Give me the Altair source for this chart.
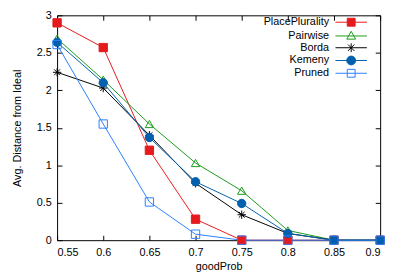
import altair as alt
import pandas as pd

x_vals = [0.55, 0.6, 0.65, 0.7, 0.75, 0.8, 0.85, 0.9]
series = ["PlacePlurality", "Pairwise", "Borda", "Kemeny", "Pruned"]
place_plurality = [2.90, 2.57, 1.20, 0.28, 0.0, 0.0, 0.0, 0.0]
pairwise = [2.69, 2.14, 1.55, 1.03, 0.66, 0.13, 0.0, 0.0]
borda = [2.24, 2.03, 1.40, 0.76, 0.34, 0.09, 0.0, 0.0]
kemeny = [2.64, 2.10, 1.37, 0.78, 0.49, 0.09, 0.0, 0.0]
pruned = [2.61, 1.55, 0.51, 0.08, 0.0, 0.0, 0.0, 0.0]

x_ticks = [0.55, 0.6, 0.65, 0.7, 0.75, 0.8, 0.85, 0.9]
y_ticks = [0, 0.5, 1, 1.5, 2, 2.5, 3]

colors = ["#e41a1c", "#1a9a1a", "#000000", "#0060ad", "#2a7fff"]
fills = ["#e41a1c", "transparent", "#000000", "#0060ad", "transparent"]

ast = "M0,-1V1M-1,0H1M-0.7,-0.7L0.7,0.7M-0.7,0.7L0.7,-0.7"
point_shapes = ["square", "triangle-up", ast, "circle", "square"]

# legend symbols: a line sample with the marker in its middle (unit = 5px)
leg_sq = "M-3.2,0H3.2M-0.8,-0.8H0.8V0.8H-0.8Z"
leg_tri = "M-3.2,0H3.2M0,-0.95L0.9,0.65H-0.9Z"
leg_ast = "M-3.2,0H3.2M0,-0.9V0.9M-0.65,-0.65L0.65,0.65M-0.65,0.65L0.65,-0.65"
leg_circ = "M-3.2,0H3.2M-0.9,0A0.9,0.9,0,1,0,0.9,0A0.9,0.9,0,1,0,-0.9,0Z"
legend_shapes = [leg_sq, leg_tri, leg_ast, leg_circ, leg_sq]

values = [place_plurality, pairwise, borda, kemeny, pruned]
rows = []
for i, (name, vals) in enumerate(zip(series, values)):
    for xv, yv in zip(x_vals, vals):
        rows.append({"x": xv, "y": yv, "series": name, "order": i})
df = pd.DataFrame(rows)

FONT = "Liberation Sans"

xs = alt.Scale(domain=[0.55, 0.9], nice=False, zero=False)
ys = alt.Scale(domain=[0, 3], nice=False)

def tick_axis(orient):
    return alt.Axis(orient=orient, offset=-5, labels=False, domain=False, grid=False,
                    ticks=True, tickSize=5, tickColor="black", tickWidth=1,
                    title=None, values=x_ticks if orient in ("top", "bottom") else y_ticks)

base = alt.Chart(df)

lines = base.mark_line(strokeWidth=1).encode(
    x=alt.X("x:Q", scale=xs, axis=alt.Axis(orient="bottom", values=x_ticks, format="~g",
            ticks=False, domain=False, grid=False, labelPadding=7, title="goodProb",
            titlePadding=3)),
    y=alt.Y("y:Q", scale=ys, axis=alt.Axis(orient="left", values=y_ticks, format="~g",
            ticks=False, domain=False, grid=False, labelPadding=6,
            title="Avg. Distance from Ideal", titlePadding=14)),
    stroke=alt.Stroke("series:N", scale=alt.Scale(domain=series, range=colors), legend=None),
    order=alt.Order("order:Q"),
)

points = base.mark_point(size=72, strokeWidth=1, opacity=1).encode(
    x=alt.X("x:Q", scale=xs, axis=tick_axis("top")),
    y=alt.Y("y:Q", scale=ys, axis=tick_axis("right")),
    stroke=alt.Stroke("series:N", scale=alt.Scale(domain=series, range=colors), legend=None),
    fill=alt.Fill("series:N", scale=alt.Scale(domain=series, range=fills), legend=None),
    shape=alt.Shape("series:N", scale=alt.Scale(domain=series, range=point_shapes), legend=None),
    order=alt.Order("order:Q"),
)

leg = alt.Legend(orient="none", legendX=294, legendY=1.5, title=None, labelAlign="right",
                 labelOffset={"expr": "-28"}, symbolSize=100, symbolStrokeWidth=1, labelFont=FONT,
                 labelFontSize=11, labelColor="black", rowPadding=0, padding=0)

legend_layer = base.transform_filter("false").mark_point(strokeWidth=1, opacity=1).encode(
    x=alt.X("x:Q", scale=xs, axis=tick_axis("bottom")),
    y=alt.Y("y:Q", scale=ys, axis=tick_axis("left")),
    stroke=alt.Stroke("series:N", scale=alt.Scale(domain=series, range=colors), legend=leg),
    fill=alt.Fill("series:N", scale=alt.Scale(domain=series, range=fills), legend=leg),
    shape=alt.Shape("series:N", scale=alt.Scale(domain=series, range=legend_shapes), legend=leg),
)

chart = alt.layer(lines, points, legend_layer).resolve_scale(
    stroke="independent", fill="independent", shape="independent"
).resolve_axis(x="independent", y="independent").properties(
    width=329, height=229,
    autosize=alt.AutoSizeParams(type="none"),
    padding={"left": 50, "top": 5, "right": 8, "bottom": 34},
).configure_view(stroke="black", strokeWidth=1).configure_axis(
    labelFont=FONT, labelFontSize=11, labelColor="black",
    titleFont=FONT, titleFontSize=11, titleFontWeight="normal", titleColor="black",
)

chart.save("out.html", embed_options={"renderer": "svg", "actions": False})
